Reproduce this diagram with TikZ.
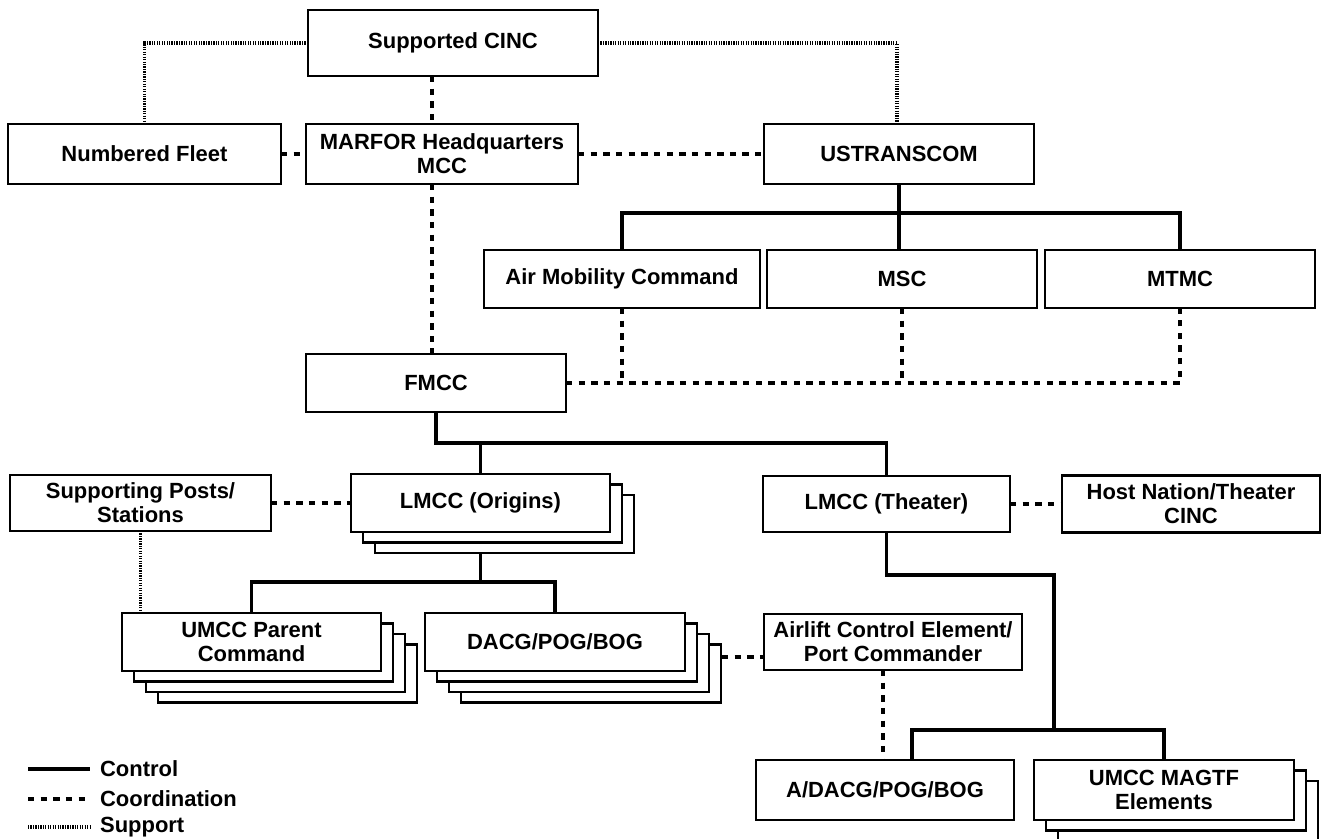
\documentclass[tikz,border=0pt]{standalone}
\usepackage{fontspec}
\setmainfont{Liberation Sans}
\usetikzlibrary{positioning}
\usetikzlibrary{shadows}

\begin{document}
\begin{tikzpicture}[
    box/.style={draw, fill=white, line width=1.2pt, inner sep=2pt, outer sep=0pt,
      align=center, minimum width=5.2cm, minimum height=1.16cm,
      font=\bfseries\fontsize{12.5}{13.5}\selectfont},
    layer/.style={copy shadow={shadow xshift=#1*0.24cm, shadow yshift=-#1*0.21cm,
      fill=white, draw=black, line width=1.2pt}},
    ctrlline/.style={line width=2.2pt},
    coordline/.style={line width=2.2pt, dash pattern=on 3.6pt off 3.6pt},
    suppline/.style={line width=2pt, dash pattern=on 0.7pt off 0.7pt},
    legend/.style={anchor=west, inner sep=1pt, font=\bfseries\fontsize{12.5}{13.5}\selectfont}
  ]
  \useasboundingbox (0,0) rectangle (26.46,-16.78);

  % command boxes
  \node[box, minimum width=5.8cm, minimum height=1.32cm] (cinc) at (9.06,-0.86) {Supported CINC};
  \node[box, minimum width=5.44cm, minimum height=1.2cm, below=0.96cm of cinc, xshift=-0.22cm] (marfor) {MARFOR Headquarters\\MCC};
  \node[box, minimum width=5.46cm, minimum height=1.2cm, left=0.5cm of marfor] (fleet) {Numbered Fleet};
  \node[box, minimum width=5.4cm, minimum height=1.2cm, right=3.72cm of marfor] (ustc) {USTRANSCOM};
  \node[box, minimum width=5.4cm, below=1.32cm of ustc, xshift=0.06cm] (msc) {MSC};
  \node[box, minimum width=5.52cm, left=0.14cm of msc] (amc) {Air Mobility Command};
  \node[box, minimum width=5.4cm, right=0.16cm of msc] (mtmc) {MTMC};
  \node[box, below=3.4cm of marfor, xshift=-0.12cm] (fmcc) {FMCC};

  % movement control centers
  \node[box, minimum width=5.18cm, layer=2, layer=1, below=1.24cm of fmcc, xshift=0.89cm] (lorig) {LMCC (Origins)};
  \node[box, minimum width=5.22cm, minimum height=1.12cm, left=1.6cm of lorig] (posts) {Supporting Posts/\\Stations};
  \node[box, minimum width=4.94cm, minimum height=1.12cm, right=3.06cm of lorig, yshift=-0.02cm] (lthr) {LMCC (Theater)};
  \node[box, minimum width=5.16cm, minimum height=1.14cm, right=1.04cm of lthr] (host) {Host Nation/Theater\\CINC};
  \node[box, minimum width=5.18cm, layer=3, layer=2, layer=1, below=1.62cm of lorig, xshift=-4.58cm] (umcc) {UMCC Parent\\Command};
  \node[box, layer=3, layer=2, layer=1, right=0.88cm of umcc] (dacg) {DACG/POG/BOG};
  \node[box, minimum width=5.16cm, minimum height=1.12cm, right=1.58cm of dacg] (ace) {Airlift Control Element/\\Port Commander};
  \node[box, minimum width=5.16cm, minimum height=1.2cm, below=1.8cm of ace, xshift=-0.16cm] (adacg) {A/DACG/POG/BOG};
  \node[box, minimum height=1.2cm, layer=2, layer=1, right=0.4cm of adacg] (magtf) {UMCC MAGTF\\Elements};

  % helper points
  \coordinate (mline) at ([xshift=-0.42cm]cinc.south);
  \coordinate (ubus) at ([yshift=-0.58cm]ustc.south);
  \coordinate (fbus) at ([yshift=-0.62cm]fmcc.south);
  \coordinate (obus) at ([yshift=-1cm]lorig.south);
  \coordinate (tturn) at ([yshift=-0.86cm]lthr.south);
  \coordinate (tbus) at ([xshift=0.8cm, yshift=0.6cm]adacg.north east);
  \coordinate (dend) at ([xshift=0.74cm, yshift=-0.3cm]dacg.east);

  % control
  \draw[ctrlline] (ustc.south) -- (ustc.south |- msc.north);
  \draw[ctrlline] (amc.north) |- (ubus) -| (mtmc.north);
  \draw[ctrlline] (fmcc.south) -- (fbus) -| (lthr.north);
  \draw[ctrlline] (lorig.north) -- (lorig.north |- fbus);
  \draw[ctrlline] ([yshift=-0.4cm]lorig.south) -- (obus);
  \draw[ctrlline] (umcc.north) |- (obus) -| (dacg.north);
  \draw[ctrlline] (lthr.south) -- (tturn) -| (tbus);
  \draw[ctrlline] ([xshift=0.54cm]adacg.north) |- (tbus) -| (magtf.north);

  % coordination
  \draw[coordline] (mline) -- (mline |- marfor.north);
  \draw[coordline] (mline |- marfor.south) -- (mline |- fmcc.north);
  \draw[coordline] (fleet) -- (marfor);
  \draw[coordline] (marfor) -- (ustc);
  \draw[coordline] (fmcc.east) -| (mtmc.south);
  \draw[coordline] (amc.south) -- (amc.south |- fmcc.east);
  \draw[coordline] (msc.south) -- (msc.south |- fmcc.east);
  \draw[coordline] (posts) -- (lorig);
  \draw[coordline] (lthr) -- (host);
  \draw[coordline] (dend) -- (dend -| ace.west);
  \draw[coordline] ([xshift=-0.2cm]ace.south) -- ([xshift=-0.2cm]ace.south |- adacg.north);

  % support
  \draw[suppline] (cinc.west) -| (fleet.north);
  \draw[suppline] (cinc.east) -| ([xshift=-0.04cm]ustc.north);
  \draw[suppline] (posts.south) -- (posts.south |- umcc.north);

  % legend
  \node[legend] (lgctrl) at (1.96,-15.38) {Control};
  \node[legend] (lgcoord) at (1.96,-15.98) {Coordination};
  \node[legend] (lgsupp) at (1.96,-16.54) {Support};
  \draw[ctrlline] ([xshift=-1.4cm]lgctrl.west) -- ([xshift=-0.16cm]lgctrl.west);
  \draw[coordline] ([xshift=-1.4cm]lgcoord.west) -- ([xshift=-0.16cm]lgcoord.west);
  \draw[suppline] ([xshift=-1.4cm]lgsupp.west) -- ([xshift=-0.16cm]lgsupp.west);
\end{tikzpicture}
\end{document}
